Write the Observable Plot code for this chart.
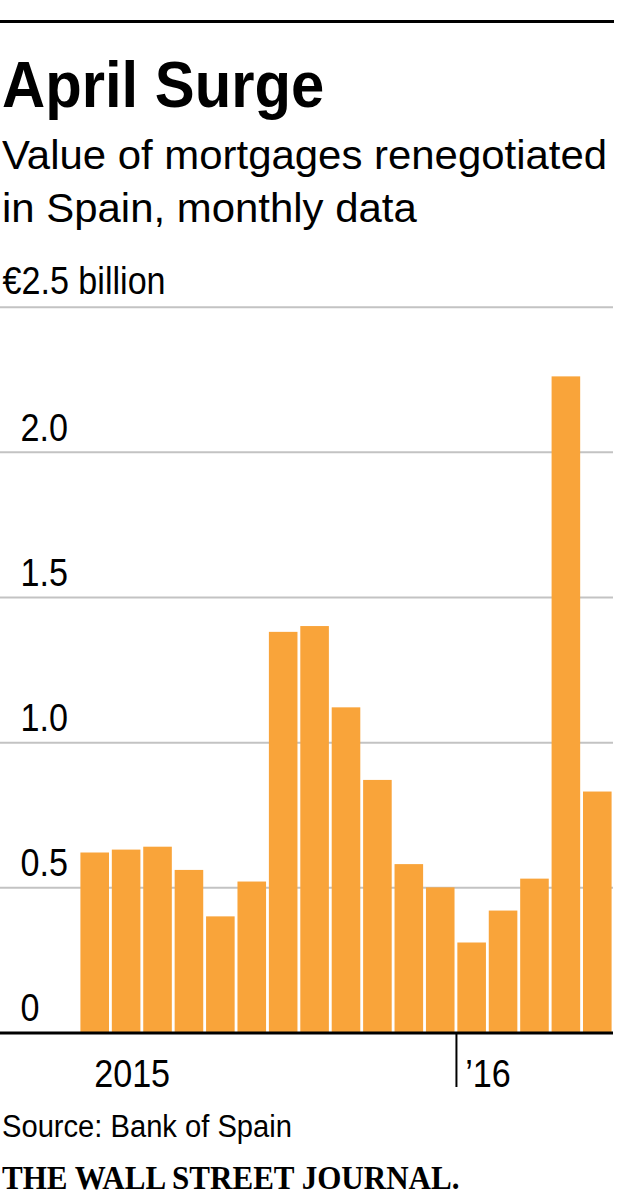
<!DOCTYPE html>
<html>
<head>
<meta charset="utf-8">
<script src="https://cdn.jsdelivr.net/npm/d3@7"></script>
<script src="https://cdn.jsdelivr.net/npm/@observablehq/plot@0.6"></script>
<style>
  html, body { margin: 0; padding: 0; background: #fff; }
  #wrap { position: relative; width: 619px; height: 1200px; overflow: hidden; color: #000;
          font-family: "Liberation Sans", Arial, sans-serif; }
  .abs { position: absolute; left: 2px; white-space: nowrap; transform-origin: 0 0; }
  #rule { position: absolute; left: 0; top: 20px; width: 614px; height: 3px; background: #000; }
  #title { top: 52px; font-size: 65px; line-height: 65px; font-weight: bold; transform: scaleX(0.92); }
  #subtitle { top: 128px; font-size: 41.5px; line-height: 53px; transform: scaleX(1.01); }
  #source { top: 1111px; font-size: 31px; line-height: 31px; transform: scaleX(0.94); }
  #logo { top: 1162px; font-family: "Liberation Serif", "Times New Roman", serif; font-weight: bold;
          font-size: 33px; line-height: 33px; transform: scaleX(0.94); }
  #chart { position: absolute; left: 0; top: 250px; }
</style>
</head>
<body>
<div id="wrap">
  <div id="rule"></div>
  <div id="title" class="abs">April Surge</div>
  <div id="subtitle" class="abs">Value of mortgages renegotiated<br>in Spain, monthly data</div>
  <div id="chart"></div>
  <div id="source" class="abs">Source: Bank of Spain</div>
  <div id="logo" class="abs">THE WALL STREET JOURNAL.</div>
</div>
<script>
// ---- data ----
const months = ["2015-01","2015-02","2015-03","2015-04","2015-05","2015-06","2015-07","2015-08",
                "2015-09","2015-10","2015-11","2015-12","2016-01","2016-02","2016-03","2016-04","2016-05"];
const values = [0.62, 0.63, 0.64, 0.56, 0.40, 0.52, 1.38, 1.40, 1.12, 0.87, 0.58, 0.50, 0.31, 0.42, 0.53, 2.26, 0.83];
const yTicks = [0, 0.5, 1, 1.5, 2];
const yTickLabels = ["0", "0.5", "1.0", "1.5", "2.0"];
const yTopTick = [2.5];
const yTopLabel = ["€2.5 billion"];
const firstYearMonth = ["2015-01"];
const firstYearLabel = ["2015"];
const yearStartMonths = ["2016-01"];
const yearStartLabels = ["’16"];

// ---- tables built from arrays ----
const bars = months.map((m, i) => ({month: m, value: values[i]}));
const yLabelRows = yTicks.map((v, i) => ({v, label: yTickLabels[i]}));
const yTopRows = yTopTick.map((v, i) => ({v, label: yTopLabel[i]}));
const firstYearRows = firstYearMonth.map((m, i) => ({month: m, label: firstYearLabel[i]}));
const yearStartRows = yearStartMonths.map((m, i) => ({month: m, label: yearStartLabels[i]}));

// ---- layout ----
const W = 619, H = 850, ML = 79, MR = 6, MT = 56.7, MB = 67.5;
const step = (W - ML - MR) / months.length;
const labelFont = "'Liberation Sans', Arial, sans-serif";
const squeeze = 0.875; // horizontal condensing of tick label glyphs
const xLabelStyle = {x: "month", text: "label", frameAnchor: "bottom", textAnchor: "start", lineAnchor: "bottom",
  dy: 54, fontSize: 39, fontFamily: labelFont, fill: "#000"};

const chart = Plot.plot({
  width: W, height: H,
  marginLeft: ML, marginRight: MR, marginTop: MT, marginBottom: MB,
  x: {type: "band", domain: months, paddingInner: 0.09, paddingOuter: 0.045, round: false, axis: null},
  y: {domain: [0, 2.5], axis: null},
  style: {background: "transparent", overflow: "visible"},
  marks: [
    Plot.ruleY([...yTicks.filter(d => d > 0), ...yTopTick], {stroke: "#c3c3c3", strokeWidth: 2, insetLeft: -ML}),
    Plot.barY(bars, {x: "month", y: "value", fill: "#f9a43a"}),
    Plot.ruleY([0], {stroke: "#000", strokeWidth: 3, insetLeft: -ML}),
    Plot.ruleX(yearStartMonths, {x: d => d, y1: () => 0, y2: () => 0, insetBottom: -54.5, dx: -step / 2, stroke: "#000", strokeWidth: 2}),
    Plot.text(firstYearRows, {...xLabelStyle, dx: -1}),
    Plot.text(yearStartRows, {...xLabelStyle, dx: -7}),
    Plot.text(yLabelRows, {y: "v", text: "label", frameAnchor: "left", textAnchor: "start", lineAnchor: "bottom",
      dx: 20 - ML, dy: -11.7, fontSize: 39, fontFamily: labelFont, fill: "#000"}),
    Plot.text(yTopRows, {y: "v", text: "label", frameAnchor: "left", textAnchor: "start", lineAnchor: "bottom",
      dx: 2 - ML, dy: -13.4, fontSize: 39, fontFamily: labelFont, fill: "#000"})
  ]
});
// condense the label glyphs horizontally around their (left) anchor
d3.select(chart).selectAll("text").each(function () {
  const t = this.getAttribute("transform") || "";
  this.setAttribute("transform", (t + ` scale(${squeeze},1)`).trim());
});
document.getElementById("chart").appendChild(chart);
</script>
</body>
</html>
